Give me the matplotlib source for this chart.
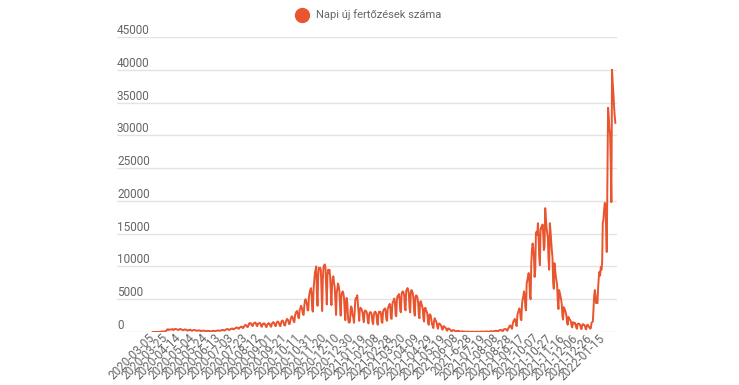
import matplotlib
matplotlib.use("Agg")
import matplotlib.pyplot as plt
from matplotlib.lines import Line2D

plt.rcParams["font.family"] = ["Roboto", "DejaVu Sans"]

# napi új fertőzések, 2020-03-05-től, heti sorokban (csüt..szer)
napi_esetek = [
    2, 4, 6, 3, 2, 8, 7,
    10, 20, 25, 20, 15, 50, 60,
    60, 90, 70, 60, 80, 130, 170,
    250, 400, 420, 300, 350, 380, 400,
    380, 410, 450, 300, 320, 430, 470,
    450, 430, 380, 320, 300, 370, 460,
    480, 390, 340, 280, 300, 330, 390,
    360, 380, 300, 230, 220, 280, 340,
    300, 340, 270, 190, 220, 270, 300,
    320, 290, 250, 200, 180, 210, 260,
    230, 250, 210, 150, 160, 190, 210,
    190, 200, 160, 130, 120, 160, 180,
    150, 170, 140, 110, 100, 120, 150,
    170, 190, 160, 130, 140, 180, 200,
    210, 230, 220, 180, 200, 250, 280,
    300, 320, 290, 230, 250, 320, 400,
    430, 460, 420, 330, 300, 410, 450,
    500, 550, 480, 400, 430, 540, 600,
    650, 700, 620, 520, 480, 650, 700,
    780, 820, 740, 600, 640, 850, 950,
    1100, 1000, 950, 750, 800, 1150, 1350,
    1300, 1350, 1250, 1000, 900, 1200, 1350,
    1400, 1450, 1300, 950, 900, 1250, 1300,
    1350, 1400, 1200, 850, 800, 1150, 1300,
    1250, 1300, 1100, 800, 750, 1100, 1250,
    1350, 1300, 1150, 850, 800, 1250, 1400,
    1500, 1450, 1250, 950, 900, 1300, 1550,
    1600, 1500, 1300, 950, 900, 1400, 1700,
    1750, 1650, 1350, 1000, 1000, 1500, 1800,
    2000, 1900, 1600, 1200, 1250, 1850, 2150,
    2400, 2300, 2000, 1600, 1500, 2500, 2900,
    3100, 3200, 2800, 2200, 2100, 3400, 3600,
    4000, 3800, 3300, 2700, 2600, 4000, 4800,
    5000, 4600, 4300, 3300, 3300, 5300, 6000,
    6400, 6700, 5800, 3400, 3100, 6500, 7700,
    9000, 9500, 10000, 6000, 4000, 8500, 9800,
    9700, 9800, 9500, 6500, 3200, 8000, 9900,
    10200, 10300, 9800, 7000, 4200, 8600, 9500,
    9100, 9500, 8500, 6200, 4100, 7200, 8300,
    8500, 7400, 6800, 4700, 2600, 6000, 6600,
    7400, 7000, 6300, 4000, 2500, 5500, 6000,
    6200, 5900, 5200, 3200, 1800, 4500, 5200,
    4400, 2300, 1500, 1400, 1600, 3500, 3900,
    3500, 2500, 2300, 1400, 2800, 4800, 5200,
    5000, 5600, 4300, 2800, 1700, 3500, 3700,
    3600, 3300, 3000, 2000, 1500, 3000, 3300,
    3200, 3100, 2700, 1700, 1300, 2600, 3000,
    2900, 3000, 2500, 1500, 1200, 2500, 3000,
    3100, 3000, 2600, 1500, 1100, 2700, 3100,
    3000, 3100, 2700, 1500, 1400, 3100, 3400,
    3500, 3600, 3100, 1900, 1700, 3500, 3800,
    4000, 4300, 3700, 2100, 2000, 4200, 4600,
    4800, 5100, 4400, 2600, 2400, 5000, 5500,
    5300, 5800, 5100, 3200, 3000, 5800, 6100,
    6200, 6000, 5500, 3600, 3300, 6300, 6500,
    6700, 6400, 5800, 3700, 3000, 6100, 6400,
    6200, 5900, 5000, 3100, 2500, 5400, 5600,
    5500, 5200, 4500, 2600, 2100, 4500, 4700,
    4300, 4000, 3500, 2000, 1600, 3600, 3700,
    3300, 3100, 2700, 1500, 1100, 2600, 2700,
    2500, 1900, 1200, 900, 600, 1600, 2100,
    1800, 1700, 1400, 800, 500, 1200, 1300,
    1200, 1100, 900, 500, 350, 800, 900,
    750, 700, 550, 300, 200, 500, 550,
    450, 400, 300, 150, 120, 250, 300,
    250, 220, 180, 100, 60, 150, 170,
    150, 130, 110, 60, 40, 90, 100,
    90, 80, 60, 40, 25, 60, 70,
    60, 55, 50, 30, 20, 45, 55,
    50, 50, 40, 25, 15, 45, 50,
    55, 50, 45, 30, 20, 55, 65,
    70, 65, 55, 35, 25, 70, 80,
    85, 80, 70, 40, 35, 90, 110,
    120, 110, 100, 60, 50, 140, 170,
    190, 200, 170, 110, 90, 230, 270,
    300, 320, 270, 170, 140, 360, 420,
    450, 470, 400, 250, 200, 550, 650,
    900, 1000, 900, 600, 500, 1300, 1600,
    1800, 2000, 1800, 1100, 900, 2600, 3000,
    3300, 3600, 3200, 2000, 1800, 4300, 5000,
    5500, 6200, 5600, 3800, 3300, 7400, 7900,
    8500, 9000, 8000, 5500, 5000, 10500, 12500,
    13500, 12800, 11500, 8400, 9500, 15100, 15300,
    14800, 16600, 14500, 11400, 10200, 15600, 16000,
    15800, 16400, 15000, 12500, 13000, 18900, 17500,
    16000, 15100, 14400, 11000, 9500, 16600, 15500,
    14000, 12500, 11400, 7600, 6600, 10500, 9500,
    8500, 7900, 7200, 4800, 3500, 6400, 6000,
    5500, 5000, 4300, 2500, 1900, 3800, 3600,
    3350, 3000, 2500, 1500, 1100, 2300, 2100,
    1900, 1800, 1500, 900, 700, 1500, 1400,
    1300, 1400, 1100, 650, 500, 1200, 1300,
    1200, 1200, 1000, 550, 450, 1100, 1200,
    1100, 1100, 900, 500, 400, 1000, 1100,
    1000, 800, 700, 500, 600, 1400, 1500,
    1600, 3500, 5500, 6400, 5600, 4400, 4600,
    4400, 6800, 8400, 9200, 8600, 9900, 9500,
    10500, 16600, 17200, 18600, 19700, 19500, 16000,
    12200, 24000, 34200, 33000, 31000, 30300, 26000,
    19800, 40000, 38000, 36500, 34500, 33000, 31900,
]

datum_cimkek = [
    "2020-03-05", "2020-03-25", "2020-04-14", "2020-05-04", "2020-05-24",
    "2020-06-13", "2020-07-03", "2020-07-23", "2020-08-12", "2020-09-01",
    "2020-09-21", "2020-10-11", "2020-10-31", "2020-11-20", "2020-12-10",
    "2020-12-30", "2021-01-19", "2021-02-08", "2021-02-28", "2021-03-20",
    "2021-04-09", "2021-04-29", "2021-05-19", "2021-06-08", "2021-6-28",
    "2021-07-19", "2021-08-08", "2021-08-28", "2021-09-17", "2021-10-07",
    "2021-10-27", "2021-11-16", "2021-12-06", "2021-12-26", "2022-01-15",
]
y_ertekek = [0, 5000, 10000, 15000, 20000, 25000, 30000, 35000, 40000, 45000]

szin = "#E9552E"
szurke = "#666666"

fig = plt.figure(figsize=(7.39, 3.85), dpi=100)
ax = fig.add_axes([117 / 739, 53 / 385, 500 / 739, 295 / 385])

napok = list(range(len(napi_esetek)))
ax.plot(napok, napi_esetek, color=szin, linewidth=1.4)

ax.set_xlim(-54, 701.5)
ax.set_ylim(0, 45000)

# y feliratok a rácsvonal fölött, balra igazítva
ax.set_yticks(y_ertekek)
ax.set_yticklabels([])
ax.tick_params(axis="y", length=0)
for v in y_ertekek:
    ax.text(0, v, str(v), transform=ax.get_yaxis_transform(), ha="left", va="bottom",
            fontsize=8.5, color=szurke)
ax.grid(axis="y", color="#e3e3e3", linewidth=1)
ax.set_axisbelow(True)

ax.set_xticks(range(0, 20 * len(datum_cimkek), 20))
ax.set_xticklabels(datum_cimkek, rotation=45, ha="right", va="center",
                   rotation_mode="anchor", fontsize=8.5, color=szurke)
ax.tick_params(axis="x", length=0, pad=3)

for s in ax.spines.values():
    s.set_visible(False)

jel = Line2D([], [], color=szin, marker="o", linestyle="none", markersize=10)
fig.legend([jel], ["Napi új fertőzések száma"], loc="center", bbox_to_anchor=(366 / 739, 1 - 15 / 385),
           frameon=False, fontsize=8, labelcolor=szurke, handletextpad=0.3)

fig.savefig("out.png", dpi=100)
